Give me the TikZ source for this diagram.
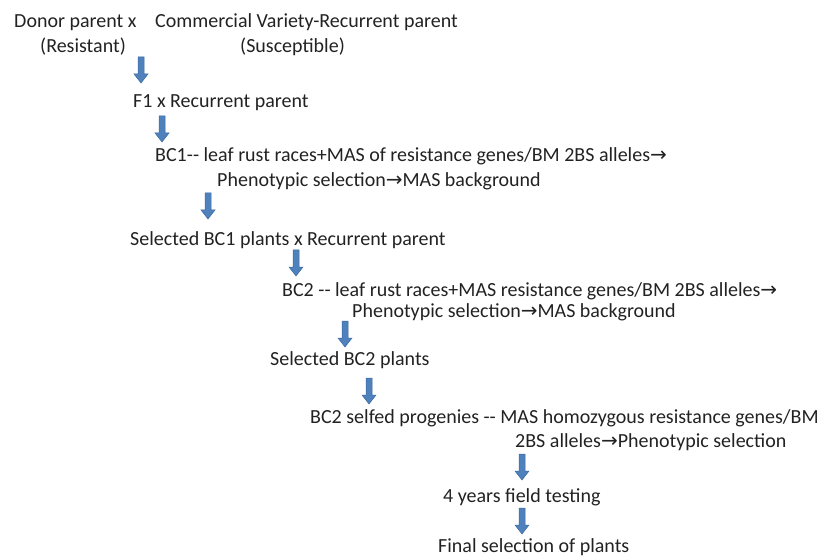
\documentclass[tikz,border=0pt]{standalone}
\usepackage{fontspec}
\setmainfont{Carlito}
\newfontfamily\arrowfont{DejaVu Sans}
\usepackage{xcolor}
\definecolor{arrowblue}{HTML}{4F81BD}
\definecolor{arrowedge}{HTML}{3B6A9F}
\definecolor{inktext}{HTML}{222222}
\newcommand{\toarr}{{\arrowfont\fontsize{20pt}{20pt}\selectfont →}}

\begin{document}
\begin{tikzpicture}[
    x=1pt, y=-1pt,
    step text/.style={anchor=base west, inner sep=0pt, text=inktext, font=\fontsize{20pt}{24pt}\selectfont},
    downarrow/.pic={
        \filldraw[draw=arrowedge, fill=arrowblue, line width=0.5pt]
            (-3,0) -- (3,0) -- (3,17) -- (7,17) -- (0,26) -- (-7,17) -- (-3,17) -- cycle;
    },
]
\useasboundingbox (0,0) rectangle (830,556);

\node[step text] (donor) at (14,28) {Donor parent x};
\node[step text] (commercial) at (155,28) {Commercial Variety-Recurrent parent};
\node[step text] (resistant) at (40,53) {(Resistant)};
\node[step text] (susceptible) at (240,53) {(Susceptible)};
\node[step text] (fone) at (133,108) {F1 x Recurrent parent};
\node[step text] (bcone) at (155,162) {BC1-{}- leaf rust races+MAS of resistance genes/BM 2BS alleles\toarr};
\node[step text] (bconeb) at (217,187) {Phenotypic selection\toarr MAS background};
\node[step text] (selone) at (130,245) {Selected BC1 plants x Recurrent parent};
\node[step text] (bctwo) at (282,296) {BC2 -{}- leaf rust races+MAS resistance genes/BM 2BS alleles\toarr};
\node[step text] (bctwob) at (352,317) {Phenotypic selection\toarr MAS background};
\node[step text] (seltwo) at (270,365) {Selected BC2 plants};
\node[step text] (selfed) at (310,423) {BC2 selfed progenies -{}- MAS homozygous resistance genes/BM};
\node[step text] (selfedb) at (515,447) {2BS alleles\toarr Phenotypic selection};
\node[step text] (field) at (443,502) {4 years field testing};
\node[step text] (final) at (438,552) {Final selection of plants};

\pic (arra) at (141,57) {downarrow};
\pic (arrb) at (162,116) {downarrow};
\pic (arrc) at (208,193) {downarrow};
\pic (arrd) at (296,250) {downarrow};
\pic (arre) at (345,321) {downarrow};
\pic (arrf) at (369,378) {downarrow};
\pic (arrg) at (522,454) {downarrow};
\pic (arrh) at (522,508) {downarrow};
\end{tikzpicture}
\end{document}
